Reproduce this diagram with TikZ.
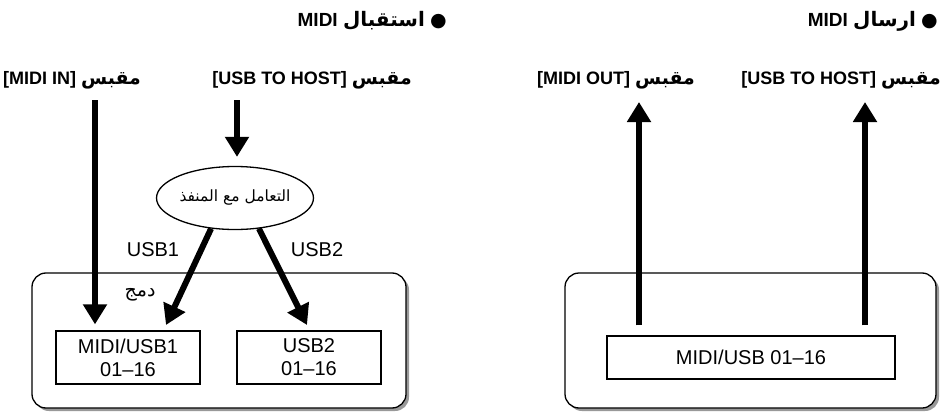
\documentclass[tikz,border=0pt]{standalone}
\usepackage{fontspec}
\setmainfont{Liberation Sans}
\newfontfamily\arabicfont[Script=Arabic]{DejaVu Sans}
\newfontfamily\arabicbig[Script=Arabic,Scale=1.05]{DejaVu Sans}
\TeXXeTstate=1
\usetikzlibrary{arrows.meta,shapes.geometric,shadows}
\begin{document}
\begin{tikzpicture}[x=1pt,y=-1pt,
  conn/.style={line width=6pt,-{Triangle[length=20pt,width=23pt]}},
  bigbox/.style={draw,line width=1.3pt,rounded corners=14pt,fill=white,
    drop shadow={shadow xshift=3pt,shadow yshift=-3pt,fill=gray!80,opacity=1}},
  chbox/.style={draw,line width=1.3pt,rectangle,inner sep=0pt,align=center,
    font=\fontsize{20}{23}\selectfont},
  top/.style={font=\bfseries\fontsize{19}{22}\selectfont,inner sep=0pt},
  hdr/.style={font=\bfseries\fontsize{18}{21}\selectfont,inner sep=0pt},
  lbl/.style={font=\fontsize{20}{23}\selectfont,inner sep=0pt},
  arlbl/.style={font=\arabicfont\fontsize{19}{22}\selectfont,inner sep=0pt}]
\useasboundingbox (0,0) rectangle (940,412);

% ---------- left panel ----------
\node[top,anchor=east] (hL) at (447,21) {MIDI {\arabicbig\beginR استقبال\endR} {\arabicfont ●}};
\node[hdr] (lin) at (72,80) {[MIDI IN] {\arabicbig\beginR مقبس\endR}};
\node[hdr] (lhost) at (312,80) {[USB TO HOST] {\arabicbig\beginR مقبس\endR}};

\node[bigbox,minimum width=374pt,minimum height=135pt] (L) at (219,340.5) {};
\node[chbox,minimum width=144pt,minimum height=53pt] (m1) at (128,357.5) {MIDI/USB1\\01–16};
\node[chbox,minimum width=144pt,minimum height=53pt] (m2) at (309,357.5) {USB2\\01–16};

\node[draw,ellipse,line width=1.3pt,minimum width=130pt,minimum height=63pt,inner sep=0pt,
  font=\arabicfont\fontsize{15.5}{18}\selectfont] (ell) at (235,198) {\beginR التعامل مع المنفذ\endR};

\coordinate (i1s) at (95,100);
\coordinate (h1s) at (237,100);
\coordinate (u1tip) at (166,325);
\coordinate (u2tip) at (307,325);

\draw[conn,shorten >=6pt] (i1s) -- (i1s |- m1.north);
\draw[conn,shorten >=9pt] (h1s) -- (h1s |- ell.north);
\draw[conn] (ell.232) -- (u1tip);
\draw[conn] (ell.308) -- (u2tip);

\node[lbl] (usb1) at (153,250) {USB1};
\node[lbl] (usb2) at (317,250) {USB2};
\node[arlbl] (merge) at (140,295) {\beginR دمج\endR};

% ---------- right panel ----------
\node[top,anchor=east] (hR) at (938,21) {MIDI {\arabicbig\beginR ارسال\endR} {\arabicfont ●}};
\node[hdr] (rout) at (616,80) {[MIDI OUT] {\arabicbig\beginR مقبس\endR}};
\node[hdr,anchor=east] (rhost) at (941,80) {[USB TO HOST] {\arabicbig\beginR مقبس\endR}};

\node[bigbox,minimum width=371pt,minimum height=135pt] (R) at (750.5,340.5) {};
\node[chbox,minimum width=288pt,minimum height=43pt] (m3) at (751,357.5) {MIDI/USB 01–16};

\coordinate (o1t) at (639,102);
\coordinate (o2t) at (865,102);
\draw[conn,shorten <=10pt] (o1t |- m3.north) -- (o1t);
\draw[conn,shorten <=10pt] (o2t |- m3.north) -- (o2t);
\end{tikzpicture}
\end{document}
